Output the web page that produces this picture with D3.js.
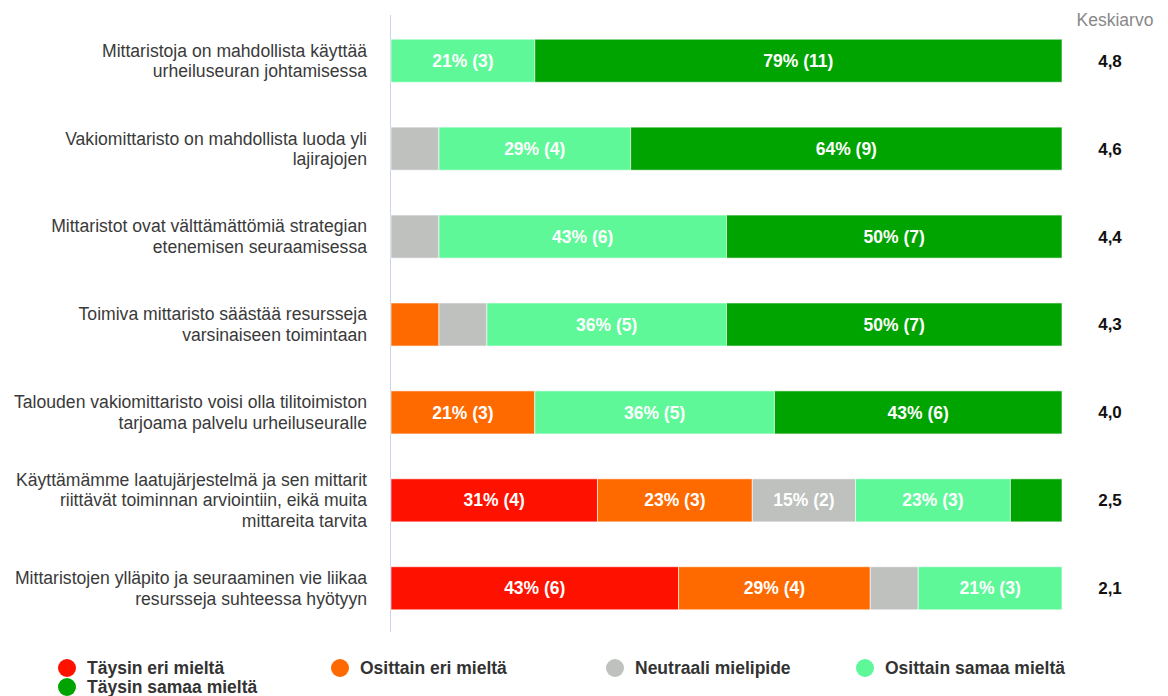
<!DOCTYPE html>
<html>
<head>
<meta charset="utf-8">
<script src="https://cdn.jsdelivr.net/npm/d3@7"></script>
<style>
  html, body { margin: 0; padding: 0; background: #fff; }
  svg { display: block; font-family: "Liberation Sans", Arial, sans-serif; }
</style>
</head>
<body>
<svg id="chart" width="1168" height="696"></svg>
<script>
// Statements (each line of the label is a separate string)
const statements = [
  ["Mittaristoja on mahdollista käyttää", "urheiluseuran johtamisessa"],
  ["Vakiomittaristo on mahdollista luoda yli", "lajirajojen"],
  ["Mittaristot ovat välttämättömiä strategian", "etenemisen seuraamisessa"],
  ["Toimiva mittaristo säästää resursseja", "varsinaiseen toimintaan"],
  ["Talouden vakiomittaristo voisi olla tilitoimiston", "tarjoama palvelu urheiluseuralle"],
  ["Käyttämämme laatujärjestelmä ja sen mittarit", "riittävät toiminnan arviointiin, eikä muita", "mittareita tarvita"],
  ["Mittaristojen ylläpito ja seuraaminen vie liikaa", "resursseja suhteessa hyötyyn"]
];

// Answer scale
const answers = ["Täysin eri mieltä", "Osittain eri mieltä", "Neutraali mielipide", "Osittain samaa mieltä", "Täysin samaa mieltä"];
const answerColors = ["#ff1100", "#ff6a00", "#bec1be", "#5ef899", "#00a400"];

// Respondent counts per answer, one array per statement
const counts = [
  [0, 0, 0, 3, 11],
  [0, 0, 1, 4, 9],
  [0, 0, 1, 6, 7],
  [0, 1, 1, 5, 7],
  [0, 3, 0, 5, 6],
  [4, 3, 2, 3, 1],
  [6, 4, 1, 3, 0]
];

// Mean score per statement
const means = ["4,8", "4,6", "4,4", "4,3", "4,0", "2,5", "2,1"];

const svg = d3.select("#chart");

const x = d3.scaleLinear().domain([0, 1]).range([391, 1062]);
const y = d3.scaleBand()
  .domain(d3.range(statements.length))
  .range([17, 632])
  .paddingInner(0.51)
  .paddingOuter(0.2525);

// Vertical axis line
svg.append("line")
  .attr("x1", 390.5).attr("x2", 390.5)
  .attr("y1", 15).attr("y2", 632)
  .attr("stroke", "#c9d3ea").attr("stroke-width", 1);

// Stacked segments
const rows = svg.selectAll("g.row")
  .data(counts)
  .join("g")
  .attr("class", "row");

rows.each(function (c, i) {
  const total = d3.sum(c);
  let acc = 0;
  const segs = c.map((v, k) => {
    const s = { k, v, total, x0: acc / total, x1: (acc + v) / total };
    acc += v;
    return s;
  }).filter(s => s.v > 0);

  const g = d3.select(this);
  g.selectAll("rect")
    .data(segs)
    .join("rect")
    .attr("x", s => x(s.x0))
    .attr("width", s => x(s.x1) - x(s.x0))
    .attr("y", y(i))
    .attr("height", y.bandwidth())
    .attr("fill", s => answerColors[s.k])
    .attr("stroke", "rgba(255,255,255,0.6)")
    .attr("stroke-width", 1);

  g.selectAll("text")
    .data(segs.filter(s => Math.round(s.v / s.total * 100) >= 15))
    .join("text")
    .attr("x", s => (x(s.x0) + x(s.x1)) / 2)
    .attr("y", y(i) + y.bandwidth() / 2)
    .attr("dy", "0.35em")
    .attr("text-anchor", "middle")
    .attr("fill", "#fff")
    .attr("font-size", 17.5)
    .attr("font-weight", "bold")
    .text(s => `${Math.round(s.v / s.total * 100)}% (${s.v})`);
});

// Statement labels
statements.forEach((lines, i) => {
  const cy = y(i) + y.bandwidth() / 2;
  const lh = 20.5;
  const t = svg.append("text")
    .attr("text-anchor", "end")
    .attr("fill", "#3a3a3a")
    .attr("font-size", 17.6);
  lines.forEach((ln, j) => {
    t.append("tspan")
      .attr("x", 367)
      .attr("y", cy + (j - (lines.length - 1) / 2) * lh)
      .attr("dy", "0.35em")
      .text(ln);
  });
});

// Mean column
svg.append("text")
  .attr("x", 1115).attr("y", 20).attr("dy", "0.35em")
  .attr("text-anchor", "middle")
  .attr("fill", "#888").attr("font-size", 17.5)
  .text("Keskiarvo");

svg.selectAll("text.mean")
  .data(means)
  .join("text")
  .attr("class", "mean")
  .attr("x", 1110)
  .attr("y", (d, i) => y(i) + y.bandwidth() / 2)
  .attr("dy", "0.35em")
  .attr("text-anchor", "middle")
  .attr("font-weight", "bold")
  .attr("font-size", 17)
  .attr("fill", "#111")
  .text(d => d);

// Legend
const legendCols = [67, 340, 615, 865];
const legend = svg.selectAll("g.legend")
  .data(answers)
  .join("g")
  .attr("class", "legend")
  .attr("transform", (d, i) => `translate(${legendCols[i % 4]},${668 + Math.floor(i / 4) * 19})`);

legend.append("circle")
  .attr("r", 9)
  .attr("fill", (d, i) => answerColors[i]);

legend.append("text")
  .attr("x", 20)
  .attr("dy", "0.35em")
  .attr("font-size", 17.5)
  .attr("font-weight", "bold")
  .attr("fill", "#333")
  .text(d => d);
</script>
</body>
</html>
